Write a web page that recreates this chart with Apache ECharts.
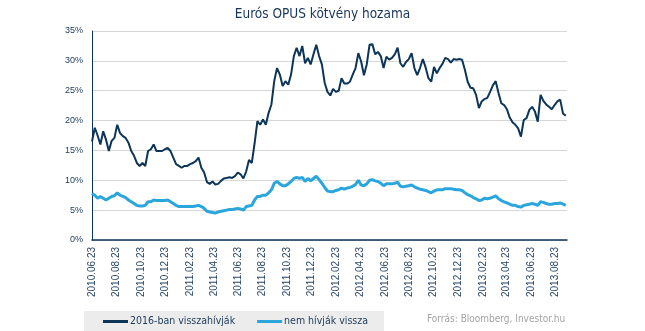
<!DOCTYPE html>
<html>
<head>
<meta charset="utf-8">
<script src="https://cdn.jsdelivr.net/npm/echarts@6/dist/echarts.min.js"></script>
<style>
html,body{margin:0;padding:0;background:#fff;}
#chart{width:645px;height:331px;}
</style>
</head>
<body>
<div id="chart"></div>
<script>
// ---- data ----
const chartTitle = 'Eurós OPUS kötvény hozama';
const seriesNames = ['2016-ban visszahívják', 'nem hívják vissza'];
const sourceText = 'Forrás: Bloomberg, Investor.hu';
// weekly observations starting 2010.06.23
const startDate = '2010.06.23';
const stepDays = 7;
const tickLabels = ['2010.06.23','2010.08.23','2010.10.23','2010.12.23','2011.02.23','2011.04.23',
  '2011.06.23','2011.08.23','2011.10.23','2011.12.23','2012.02.23','2012.04.23','2012.06.23',
  '2012.08.23','2012.10.23','2012.12.23','2013.02.23','2013.04.23','2013.06.23','2013.08.23'];
const axisEnd = '2013.09.21';
const yTicks = [0, 5, 10, 15, 20, 25, 30, 35];

const called2016 = [
16.5,18.8,17.5,16.0,18.2,16.8,14.9,16.6,17.1,19.3,
17.9,17.4,17.1,16.3,14.9,14.1,12.9,12.4,12.9,12.4,
14.9,15.2,16.0,14.9,14.9,14.9,15.2,15.4,14.9,13.8,
12.7,12.4,12.1,12.4,12.4,12.7,12.9,13.2,13.8,12.1,
11.3,9.7,9.4,9.8,9.3,9.4,9.9,10.3,10.4,10.5,
10.4,10.7,11.3,11.0,10.3,11.5,13.4,12.9,16.2,19.9,
19.3,20.2,19.3,21.3,22.7,26.6,28.8,27.7,25.8,26.6,
26.0,27.7,30.8,32.2,30.8,32.5,29.6,30.5,29.4,31.1,
32.7,30.8,29.4,26.3,24.8,24.2,25.3,24.8,25.0,27.1,
26.2,26.2,26.5,27.7,28.8,31.3,29.9,27.6,29.4,32.7,
32.8,31.1,31.5,30.8,28.8,30.7,30.2,30.5,31.1,32.2,
29.6,29.0,29.8,30.3,31.3,28.8,27.6,28.8,30.3,28.9,
27.1,26.5,29.0,27.9,28.8,29.5,30.5,30.3,29.7,30.3,
30.2,30.3,30.2,28.5,26.5,25.5,25.4,24.3,22.1,23.2,
23.6,23.8,24.8,25.9,26.6,24.6,22.9,22.6,21.9,20.5,
19.7,19.3,18.7,17.3,20.1,20.4,21.8,22.3,21.5,19.8,
24.3,23.3,22.7,22.3,21.9,22.6,23.2,23.5,21.2,20.8
];
const notCalled = [
7.8,7.5,7.0,7.3,7.0,6.7,7.0,7.3,7.4,7.9,
7.5,7.3,7.1,6.7,6.4,6.1,5.8,5.7,5.7,5.8,
6.4,6.4,6.7,6.6,6.6,6.6,6.6,6.7,6.4,6.1,
5.8,5.6,5.6,5.6,5.6,5.6,5.6,5.7,5.8,5.6,
5.3,4.8,4.7,4.6,4.5,4.7,4.8,4.9,5.0,5.1,
5.1,5.2,5.3,5.2,5.0,5.6,5.7,5.8,6.7,7.3,
7.3,7.5,7.5,7.9,8.4,9.5,9.8,9.4,9.1,9.1,
9.4,9.8,10.3,10.5,10.3,10.5,9.8,10.3,9.9,10.3,
10.7,10.1,9.5,8.8,8.2,8.1,8.1,8.3,8.4,8.7,
8.5,8.7,8.8,9.0,9.3,10.0,9.2,9.1,9.4,10.0,
10.1,9.9,9.8,9.5,9.1,9.4,9.4,9.4,9.5,9.7,
9.0,8.9,9.0,9.1,9.2,8.9,8.7,8.5,8.4,8.3,
8.1,7.9,8.2,8.4,8.4,8.4,8.6,8.6,8.6,8.5,
8.4,8.4,8.3,7.9,7.6,7.4,7.1,6.9,6.6,6.7,
7.0,6.9,7.0,7.2,7.4,6.9,6.6,6.4,6.2,6.0,
5.8,5.8,5.6,5.5,5.8,5.9,6.0,6.1,6.0,5.8,
6.4,6.3,6.1,6.0,6.0,6.1,6.1,6.2,6.0,5.8
];

// ---- helpers: x is measured in days since startDate ----
const DAY = 86400000;
function parseDot(s){const p=s.split('.').map(Number);return Date.UTC(p[0],p[1]-1,p[2]);}
const t0 = parseDot(startDate);
function dayOf(s){return Math.round((parseDot(s)-t0)/DAY);}
function pad(n){return (n<10?'0':'')+n;}
function fmtDay(d){const dt=new Date(t0+d*DAY);return dt.getUTCFullYear()+'.'+pad(dt.getUTCMonth()+1)+'.'+pad(dt.getUTCDate());}
const xDays = called2016.map((_,i)=>i*stepDays);

const navy = '#0c3558';
const lightBlue = '#2ba6dd';
const textColor = '#23405f';
const font = 'DejaVu Sans Condensed';

const chart = echarts.init(document.getElementById('chart'), null, {renderer:'canvas'});
chart.setOption({
  animation:false,
  backgroundColor:'#ffffff',
  title:{
    text:chartTitle, left:'center', top:2,
    textStyle:{fontFamily:font, fontSize:13.5, fontWeight:'normal', color:'#17355a'}
  },
  grid:{left:92, right:78, top:31, bottom:91, containLabel:false},
  legend:{
    left:84, top:311,
    padding:[5,16,6,19],
    backgroundColor:'#ececec',
    itemGap:22,
    icon:'rect', itemWidth:25, itemHeight:3,
    textStyle:{fontFamily:font, fontSize:10.5, color:textColor, padding:[0,0,0,-3]},
    data:seriesNames
  },
  xAxis:{
    type:'value',
    min:0, max:dayOf(axisEnd),
    axisLine:{show:true, lineStyle:{color:navy, width:1.5}},
    axisTick:{show:false},
    splitLine:{show:false},
    axisLabel:{
      customValues:tickLabels.map(dayOf),
      rotate:90, margin:7, fontFamily:'Liberation Sans', fontSize:10, color:'#2a4768',
      formatter:function(v){return fmtDay(v);}
    }
  },
  yAxis:{
    type:'value', min:yTicks[0], max:yTicks[yTicks.length-1], interval:5,
    axisLine:{show:true, lineStyle:{color:navy, width:1}},
    axisTick:{show:false},
    splitLine:{show:true, lineStyle:{color:'#d6d6d6', width:1}},
    axisLabel:{formatter:'{value}%', fontFamily:'Liberation Sans', fontSize:9, color:textColor, margin:9}
  },
  series:[
    {name:seriesNames[0], type:'line', showSymbol:false, symbol:'none',
     itemStyle:{color:navy}, lineStyle:{color:navy, width:2},
     data:xDays.map((d,i)=>[d, called2016[i]]), z:3},
    {name:seriesNames[1], type:'line', showSymbol:false, symbol:'none',
     itemStyle:{color:lightBlue}, lineStyle:{color:lightBlue, width:3},
     data:xDays.map((d,i)=>[d, notCalled[i]]), z:2}
  ],
  graphic:[
    {type:'text', left:427, top:314,
     style:{text:sourceText, fill:'#a3a3a3', font:'10px "DejaVu Sans Condensed"'}}
  ]
});
</script>
</body>
</html>
